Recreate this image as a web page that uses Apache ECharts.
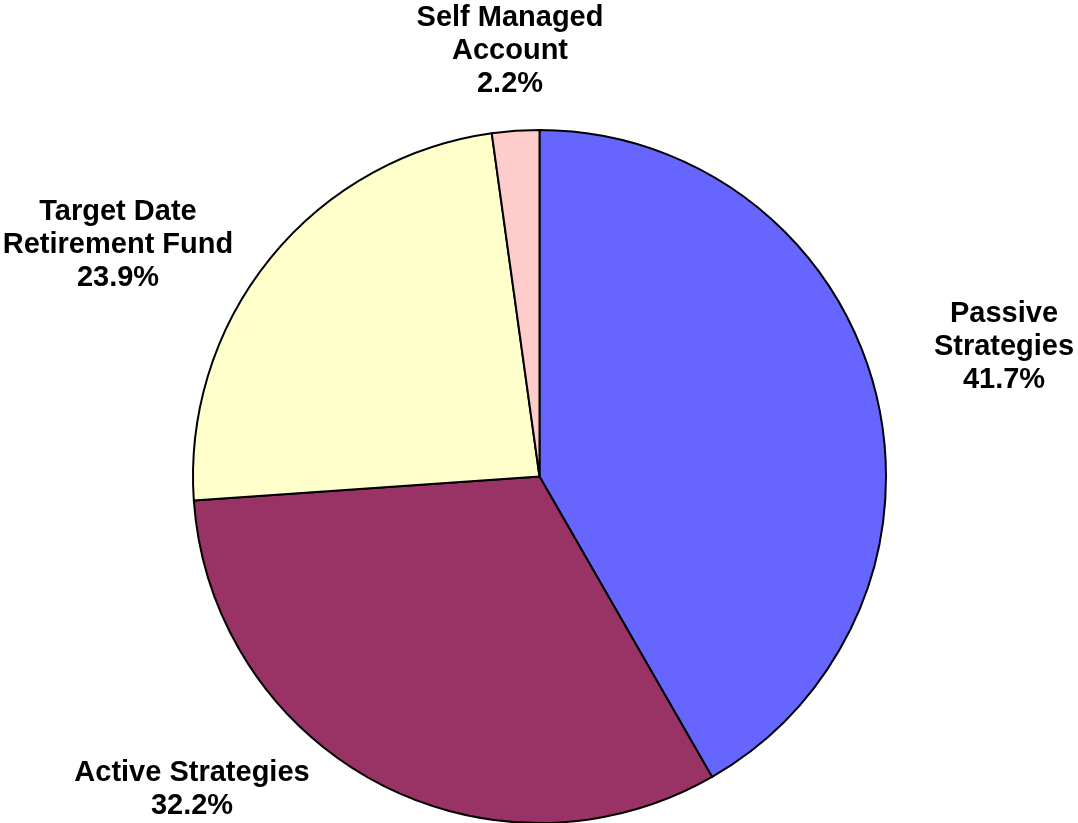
<!DOCTYPE html>
<html><head><meta charset="utf-8">
<script src="https://cdn.jsdelivr.net/npm/echarts@6/dist/echarts.min.js"></script>
<style>html,body{margin:0;padding:0;background:#fff}#c{width:1078px;height:823px}</style>
</head><body><div id="c"></div>
<script>
const categories = ['Passive\nStrategies', 'Active Strategies', 'Target Date\nRetirement Fund', 'Self Managed\nAccount'];
const values = [41.7, 32.2, 23.9, 2.2];
const colors = ['#6666FF', '#993366', '#FFFFCC', '#FFCCCC'];
const labelCenters = [[1004, 347], [192, 789], [118, 245], [510, 51]];

const chart = echarts.init(document.getElementById('c'));
chart.setOption({
  animation: false,
  series: [{
    type: 'pie',
    center: [539.5, 476.5],
    radius: [0, 346.5],
    startAngle: 90,
    clockwise: true,
    data: categories.map((n, i) => ({ name: n, value: values[i], itemStyle: { color: colors[i] } })),
    itemStyle: { borderColor: '#000', borderWidth: 2 },
    label: {
      show: true, position: 'outside', overflow: 'none', edgeDistance: 0, bleedMargin: 0,
      formatter: p => p.name + '\n' + p.value.toFixed(1) + '%',
      fontFamily: 'Liberation Sans, Arial, sans-serif', fontWeight: 'bold', fontSize: 29,
      lineHeight: 33, color: '#000', align: 'center'
    },
    labelLine: { show: false },
    labelLayout: p => ({ x: labelCenters[p.dataIndex][0], y: labelCenters[p.dataIndex][1], align: 'center', verticalAlign: 'middle' })
  }]
});
</script></body></html>
